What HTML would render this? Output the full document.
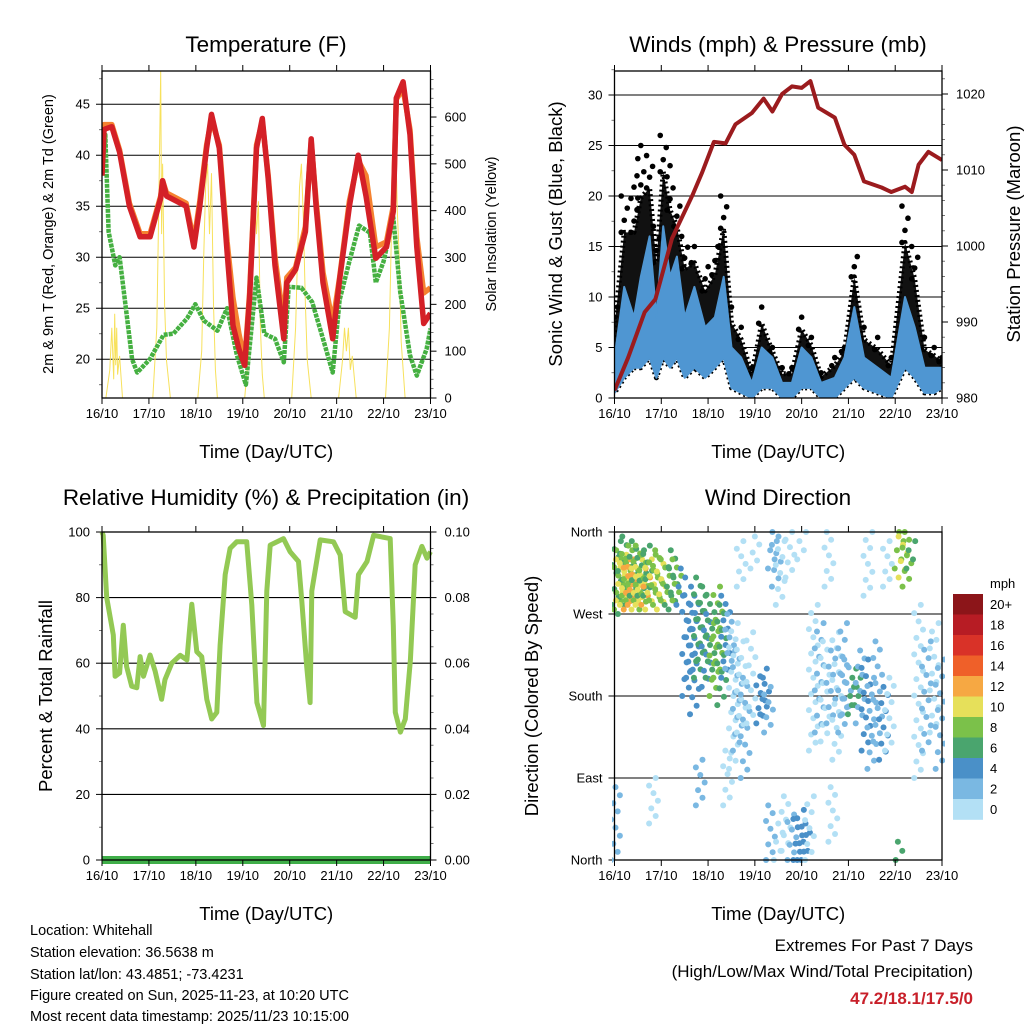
<!DOCTYPE html>
<html><head><meta charset="utf-8"><title>Whitehall station summary</title>
<style>
body{margin:0;background:#fff;}
svg{display:block;font-family:"Liberation Sans",Arial,sans-serif;}
</style></head>
<body>
<svg id="chart" width="1024" height="1024" viewBox="0 0 1024 1024" xmlns="http://www.w3.org/2000/svg">
<rect x="0" y="0" width="1024" height="1024" fill="#fff"/>
<g id="layer"></g>
<g font-size="14.5" fill="#000">
<text x="30" y="935">Location: Whitehall</text>
<text x="30" y="957">Station elevation: 36.5638 m</text>
<text x="30" y="979">Station lat/lon: 43.4851; -73.4231</text>
<text x="30" y="1000">Figure created on Sun, 2025-11-23, at 10:20 UTC</text>
<text x="30" y="1021">Most recent data timestamp: 2025/11/23 10:15:00</text>
</g>
<g text-anchor="end">
<text x="973" y="951" font-size="17">Extremes For Past 7 Days</text>
<text x="973" y="977" font-size="17">(High/Low/Max Wind/Total Precipitation)</text>
<text x="973" y="1004" font-size="17" font-weight="bold" fill="#c8202a">47.2/18.1/17.5/0</text>
</g>
</svg>
<script>
// ---------- data ----------
const dayLabels = ["16/10","17/10","18/10","19/10","20/10","21/10","22/10","23/10"];
// Temperature (hours since 16/10 00UTC)
const tempHours = [0,1,2,5,9,14,19.5,24.6,30,31,33,38,43,47,50,53.5,56,60,64,67,70,73,75.5,79,82,85,88.5,93,94.5,99,104,107,109.5,113,118,121.5,126.5,131,135,140,145.5,149,150.5,154,157.5,161,164.5,168];
const tempRed   = [38,42.5,42.6,42.8,40.3,35,32,32,35.8,37.5,36,35.5,35,31,35,40.7,44,40.7,30.5,23.3,21,19.4,26,40.7,43.6,37.7,29.2,22,27.5,28.8,32.5,41.6,35,27.5,22,27.8,35,40,36,29.9,31,34.5,45.6,47.2,42,31,23.5,24.5];
const tempOrange= [38.5,43,43,43,40.5,35.3,32.3,32.3,36,37.5,36.3,35.8,35.3,31.5,35.5,41,43.5,41,31.5,26,22.5,19.8,26.5,41,43.3,38,30,23.5,28,29,33,41.3,35.5,28.5,23.5,28,35.5,39.5,38,31,31.5,35,45.5,46.5,42.5,32,26.5,27];
const dewHours = [0,1.7,3.4,6.8,9,12,15.4,18,24.5,31.5,36.5,43.5,47.7,52,59,64,69,73.6,79,83,88.5,93,95.5,102,107.5,113,118,121.5,126.5,131.5,137,140,144,149,152.5,157.5,161,166,168];
const dewGreen = [38,42,32.5,29.2,30,25.3,20,18.7,20,22.4,22.5,24,25.4,23.8,22.8,25,20.4,17.5,28,22.5,22,19.7,27.1,27,25.6,22,18.7,25.8,29.6,33.1,32.4,27.5,29.6,33.9,26.6,20.4,18.4,21,23];
const solarHours = [0,2,4,5,6,6.5,7,7.5,8,9,10.5,26,28,29,30,30.5,31,32,33,35,49,51,52,53,54,55,56,57,58,59,73,75,76,77,78,79,80,81,82,83,97,99,100,101,102,103,104,105,107,121,123,124,125,126,127,128,130,145,147,148,149,150,151,152,153,155,168];
const solarVals  = [0,0,60,150,40,180,70,150,50,90,0,0,150,400,700,350,500,200,80,0,0,100,300,450,500,350,480,200,60,0,0,100,300,450,480,350,420,150,50,0,0,150,300,450,500,380,200,80,0,0,80,150,100,150,60,90,0,0,150,350,500,590,400,300,120,0,0];
// Winds
const windHours = [0,5,10,13.5,18,21.5,25,28.5,32,36,41,46.5,51.5,56,60,65,70.5,75.5,81,86,91,96,101,106,113,118,123,128,135,142,149,154,159,164,168];
const windLo    = [0.5,2,3,3,4,2,4,3,4,2,3,2,3,4,1,0.5,0,1,1,0,0,1,1,0,0,1,2,1,0.5,0,3,2,0.5,0.5,1];
const windHi    = [4,11,8,12,16,8,17,12,14,8,11,7,8,12,5,4,1.5,5,4,1.5,1.5,5,4,1.5,2,4,9,4,3,2,10,7,3,3,3];
const windGust  = [9,20,22,25,24,17,26,23,19,16,15,13,15,20,9,7,3,9,5,3,3,8,6,2.5,4,5,14,7,6,4,19,15,6,5,4];
const presHours = [0,7,15.5,21,29.5,40,45,51,57,62,70.5,76.5,81,86,91,96,100.5,104.5,113,118,123,128,137,142,149,152.5,156,161,168];
const presVals  = [981,985.3,991.3,993,1001,1006.7,1009.7,1013.7,1013.5,1016,1017.5,1019.4,1017.7,1020,1021,1020.8,1021.7,1018.2,1016.9,1013.3,1012,1008.5,1007.7,1007.1,1007.8,1007.1,1010.7,1012.4,1011.3];
// Relative humidity
const rhHours = [0,0.6,2.4,5.8,6.7,9,10.9,12.6,15.2,17.8,19.5,21.2,24.6,27.2,30.5,32.2,35.7,40,43.4,45.9,48.5,51,53.6,56.1,58.7,60.4,63,65.5,68.9,74,76.6,79.2,82.6,84.3,86,92.8,96.2,100.5,102.2,104.7,106.4,107.3,111.6,118.4,121.8,124.4,129.5,131.2,135.5,138.9,147.4,149,150,152.6,155.1,157.7,160.2,163.6,166.2,168];
const rhVals  = [100,99,80,68.6,56,57,71.6,59,53,52.5,62,56,62.5,57.5,49,55,60,62.4,61,78,63.5,62,49,43,45,65.5,87,95,97,97,77.8,48,41,82,96,98,94,91,79,59,48,82,97.6,97,93,75.7,74,87,91,99,98,71.6,45,39,43,61,90,95.6,92,94];
const precipHours = [0,168];
const precipVals  = [0,0];
// Wind direction columns: hour, dirLo, dirHi, speed(mph)
const dirHour = [0.5,1,2,3,4,5,6,7,8,9,10,11,12,13,14,15,16,17,18,20,22,24,26,28,30,32,34,37,39,41,43,45,47,49,51,53,55,57,59,61,63,65,67,70,75,77,79,81,83,85,80,84,88,91,94,96,98,100,90,96,102,105,108,111,114,117,119,122,124,126,129,132,135,138,141,146,148,150,152,146.5,156,160,164,167,110,130,140,65,72,20,44,112,58];
const dirLo   = [0,280,275,285,270,280,290,275,285,280,290,275,285,280,290,275,280,290,275,285,280,275,285,280,275,285,280,180,200,160,200,220,190,200,180,200,170,200,210,100,120,140,90,150,150,160,140,320,300,280,0,0,10,0,0,0,0,0,310,330,120,140,130,150,110,140,160,160,170,150,120,100,130,110,120,320,310,300,320,0,90,120,140,100,300,290,300,300,320,40,60,20,60];
const dirHi   = [80,350,340,330,355,335,345,330,340,330,350,320,345,330,340,335,320,345,330,335,340,325,330,320,340,330,320,300,280,290,310,300,270,290,260,300,280,290,270,260,230,240,200,250,200,210,190,360,355,350,60,40,70,50,45,55,40,70,360,360,280,260,240,230,250,260,220,200,210,230,220,200,240,190,200,360,355,360,350,20,280,240,260,220,360,360,350,350,355,90,110,80,120];
const dirSpeed= [3,6,9,11,7,10,8,12,9,13,7,10,8,11,6,9,12,7,10,9,8,11,9,7,6,8,5,4,5,4,6,7,5,6,8,9,7,4,3,1,2,1,2,0,4,4,3,3,2,1,2,1,0,2,4,4,4,1,0,0,1,2,1,2,0,3,2,6,6,3,4,3,2,4,1,8,10,9,7,6,1,2,1,2,0,1,0,0,0,1,2,0,1];
const cbarLabels = ["20+","18","16","14","12","10","8","6","4","2","0"];
const cbarColors = ["#8c1519","#b71c24","#d93228","#ef6029","#f6a843","#e6e05a","#7bc14a","#4aa56e","#4a90c8","#7ab8e2","#b3e0f5"];

// ---------- helpers ----------
const NS = "http://www.w3.org/2000/svg";
const root = document.getElementById("layer");
function mk(tag, attrs, parent) {
  const el = document.createElementNS(NS, tag);
  for (const k in attrs) el.setAttribute(k, attrs[k]);
  (parent || root).appendChild(el);
  return el;
}
function txt(s, attrs, parent) { const t = mk("text", attrs, parent); t.textContent = s; return t; }

const x1 = h => 102 + h * 328.5 / 168;
const x2 = h => 614.5 + h * 327.5 / 168;
const yT = v => 398 - (v - 16.2) * 10.2;
const ySol = v => 398 - v * 0.4683;
const yW = v => 398 - v * 10.1;
const yP = p => 398 - (p - 980) * 7.6;
const yRH = v => 860 - v * 3.28;
const yPr = v => 860 - v * 3280;
const yD = d => 860 - d * 328 / 360;
function spdColor(s) { const i = Math.min(10, Math.floor(s / 2)); return cbarColors[10 - i]; }
function pts(hs, vs, fx, fy) { return hs.map((h, i) => fx(h).toFixed(1) + "," + fy(vs[i]).toFixed(1)).join(" "); }

function panelFrame(g, L, T, R, B, name) {
  const f = mk("rect", {x: L, y: T, width: R - L, height: B - T, fill: "none", stroke: "#000", "stroke-width": 1.3}, g);
  
  
}
function xAxis(g, fx, B, T, name) {
  for (let d = 0; d < dayLabels.length; d++) {
    const x = fx(d * 24);
    const tk = mk("path", {d: `M${x},${B}v6M${x},${T}v-6`, stroke: "#000", "stroke-width": 1}, g);
    
    
    const lb = txt(dayLabels[d], {x: x, y: B + 20, "font-size": 13, "text-anchor": "middle"}, g);
    
    
  }
  const t = txt("Time (Day/UTC)", {x: (fx(0) + fx(168)) / 2, y: B + 60, "font-size": 18.5, "text-anchor": "middle"}, g);
  
  
}
function yTicks(g, vals, labels, fy, xEdge, side, grid, L, R, name) {
  vals.forEach((v, i) => {
    const y = fy(v);
    if (grid) {
      const gl = mk("line", {x1: L, x2: R, y1: y, y2: y, stroke: "#000", "stroke-width": 1.1}, g);
      
      
    }
    const dx = side === "left" ? -6 : 6;
    const tk = mk("line", {x1: xEdge, x2: xEdge + dx, y1: y, y2: y, stroke: "#000", "stroke-width": 1}, g);
    
    
    const lb = txt(labels[i], {x: side === "left" ? xEdge - 12 : xEdge + 14, y: y + 4.5, "font-size": 13, "text-anchor": side === "left" ? "end" : "start"}, g);
    
    
  });
}
function minorTicks(g, vals, fy, xEdge, side) {
  vals.forEach(v => {
    const y = fy(v);
    const m = mk("line", {x1: xEdge, x2: xEdge + (side === "left" ? -3 : 3), y1: y, y2: y, stroke: "#555", "stroke-width": 0.8}, g);
    
    
  });
}
function title(g, s, cx, name) {
  const t = txt(s, {x: cx, y: 52, "font-size": 22.5, "text-anchor": "middle"}, g);
  
  
  return t;
}
function vtitle(g, s, x, y, size, name) {
  const t = txt(s, {x: 0, y: 0, "font-size": size, "text-anchor": "middle", transform: `translate(${x},${y}) rotate(-90)`}, g);
  
  
}

// ---------- Panel 1: Temperature ----------
{
  const g = mk("g", {});
  
  
  title(g, "Temperature (F)", 266, 'temperature-title');
  yTicks(g, [20,25,30,35,40,45], ["20","25","30","35","40","45"], yT, 102, "left", true, 102, 430.5, 'temp');
  minorTicks(g, [17.5,22.5,27.5,32.5,37.5,42.5,47.5], yT, 102, "left");
  yTicks(g, [0,100,200,300,400,500,600], ["0","100","200","300","400","500","600"], ySol, 430.5, "right", false, 0, 0, 'solar');
  minorTicks(g, [20,40,60,80,120,140,160,180,220,240,260,280,320,340,360,380,420,440,460,480,520,540,560,580,620,640,660,680], ySol, 430.5, "right");
  const cp = mk("clipPath", {id: "c1"}, g);
  mk("rect", {x: 102, y: 71, width: 328.5, height: 327}, cp);
  const sol = mk("polyline", {points: pts(solarHours, solarVals, x1, ySol), fill: "none", stroke: "#f7e15c", "stroke-width": 1, "clip-path": "url(#c1)"}, g);
  
  
  const dew = mk("polyline", {points: pts(dewHours, dewGreen, x1, yT), fill: "none", stroke: "#45b041", "stroke-width": 4.5, "stroke-dasharray": "4 1", "stroke-linejoin": "round", "clip-path": "url(#c1)"}, g);
  
  
  const org = mk("polyline", {points: pts(tempHours, tempOrange, x1, yT), fill: "none", stroke: "#f58230", "stroke-width": 5.5, "stroke-linejoin": "round", "clip-path": "url(#c1)"}, g);
  
  
  const red = mk("polyline", {points: pts(tempHours, tempRed, x1, yT), fill: "none", stroke: "#d42027", "stroke-width": 5.5, "stroke-linejoin": "round", "clip-path": "url(#c1)"}, g);
  
  
  panelFrame(g, 102, 71, 430.5, 398, 'temperature');
  xAxis(g, x1, 398, 71, 'temperature');
  vtitle(g, "2m & 9m T (Red, Orange) & 2m Td (Green)", 53, 234, 14.5, 'temperature-y-axis-title');
  vtitle(g, "Solar Insolation (Yellow)", 496, 234, 14.5, 'solar-y-axis-title');
}

// ---------- Panel 2: Winds ----------
{
  const g = mk("g", {});
  
  
  title(g, "Winds (mph) & Pressure (mb)", 778, 'winds-title');
  yTicks(g, [0,5,10,15,20,25,30], ["0","5","10","15","20","25","30"], yW, 614.5, "left", true, 614.5, 942, 'wind');
  minorTicks(g, [2.5,7.5,12.5,17.5,22.5,27.5,32.5], yW, 614.5, "left");
  yTicks(g, [980,990,1000,1010,1020], ["980","990","1000","1010","1020"], yP, 942, "right", false, 0, 0, 'pressure');
  minorTicks(g, [982,984,986,988,992,994,996,998,1002,1004,1006,1008,1012,1014,1016,1018,1022], yP, 942, "right");
  const cp = mk("clipPath", {id: "c2"}, g);
  mk("rect", {x: 614.5, y: 71, width: 327.5, height: 327}, cp);
  const gp = windHours.map((h, i) => x2(h).toFixed(1) + "," + yW(windHi[i] + 0.6 * (windGust[i] - windHi[i])).toFixed(1)).join(" ");
  const lp = windHours.slice().reverse().map((h, j) => { const i = windHours.length - 1 - j; return x2(h).toFixed(1) + "," + yW(windLo[i]).toFixed(1); }).join(" ");
  const gust = mk("polygon", {points: gp + " " + lp, fill: "#111", stroke: "#000", "stroke-width": 5, "stroke-dasharray": "2 3", "stroke-linejoin": "round", "clip-path": "url(#c2)"}, g);
  
  
  windHours.forEach((h, i) => {
    const top = windHi[i] + 0.6 * (windGust[i] - windHi[i]);
    const n = Math.max(1, Math.round((windGust[i] - top) / 1.2));
    for (let k = 0; k <= n; k++) {
      const d = mk("circle", {cx: x2(h) + ((k % 3) - 1) * 3, cy: yW(top + (windGust[i] - top) * k / n), r: 2.8, fill: "#000", "clip-path": "url(#c2)"}, g);
      
      
    }
  });
  const hp = windHours.map((h, i) => x2(h).toFixed(1) + "," + yW(windHi[i]).toFixed(1)).join(" ");
  const band = mk("polygon", {points: hp + " " + lp, fill: "#4f96d2", stroke: "#4f96d2", "stroke-width": 2, "stroke-linejoin": "round", "clip-path": "url(#c2)"}, g);
  
  
  const pr = mk("polyline", {points: pts(presHours, presVals, x2, yP), fill: "none", stroke: "#9b1b1e", "stroke-width": 4, "stroke-linejoin": "round", "clip-path": "url(#c2)"}, g);
  
  
  panelFrame(g, 614.5, 71, 942, 398, 'winds');
  xAxis(g, x2, 398, 71, 'winds');
  vtitle(g, "Sonic Wind & Gust (Blue, Black)", 562, 234, 18.5, 'wind-y-axis-title');
  vtitle(g, "Station Pressure (Maroon)", 1020, 234, 18.5, 'pressure-y-axis-title');
}

// ---------- Panel 3: RH ----------
{
  const g = mk("g", {});
  
  
  title(g, "Relative Humidity (%) & Precipitation (in)", 266, 'humidity-title').setAttribute('y', 505);
  yTicks(g, [0,20,40,60,80,100], ["0","20","40","60","80","100"], yRH, 102, "left", true, 102, 430.5, 'rh');
  minorTicks(g, [10,30,50,70,90], yRH, 102, "left");
  yTicks(g, [0,0.02,0.04,0.06,0.08,0.10], ["0.00","0.02","0.04","0.06","0.08","0.10"], yPr, 430.5, "right", false, 0, 0, 'precip');
  minorTicks(g, [0.005,0.01,0.015,0.025,0.03,0.035,0.045,0.05,0.055,0.065,0.07,0.075,0.085,0.09,0.095], yPr, 430.5, "right");
  const cp = mk("clipPath", {id: "c3"}, g);
  mk("rect", {x: 96, y: 528, width: 340, height: 340}, cp);
  const pl = mk("polyline", {points: pts(precipHours, precipVals, x1, yPr), fill: "none", stroke: "#3fae49", "stroke-width": 8, "clip-path": "url(#c3)"}, g);
  
  
  const rh = mk("polyline", {points: pts(rhHours, rhVals, x1, yRH), fill: "none", stroke: "#93c954", "stroke-width": 5, "stroke-linejoin": "round", "clip-path": "url(#c3)"}, g);
  
  
  panelFrame(g, 102, 532, 430.5, 860, 'humidity');
  xAxis(g, x1, 860, 532, 'humidity');
  vtitle(g, "Percent & Total Rainfall", 52, 696, 18.5, 'humidity-y-axis-title');
}

// ---------- Panel 4: Wind direction ----------
{
  const g = mk("g", {});
  
  
  title(g, "Wind Direction", 778, 'wind-direction-title').setAttribute('y', 505);
  yTicks(g, [0,90,180,270,360], ["North","East","South","West","North"], yD, 614.5, "left", true, 614.5, 942, 'direction');
  const cp = mk("clipPath", {id: "c4"}, g);
  mk("rect", {x: 612, y: 529, width: 333, height: 334}, cp);
  dirHour.forEach((h, i) => {
    const n = Math.max(1, Math.round((dirHi[i] - dirLo[i]) / 9));
    for (let k = 0; k <= n; k++) {
      const d = dirLo[i] + (dirHi[i] - dirLo[i]) * k / n;
      const c = mk("circle", {cx: x2(h) + ((k * 3) % 5 - 2) * 2.2, cy: yD(d), r: 3, fill: spdColor(dirSpeed[i]), "clip-path": "url(#c4)"}, g);
      
      
    }
  });
  panelFrame(g, 614.5, 532, 942, 860, 'wind-direction');
  xAxis(g, x2, 860, 532, 'wind-direction');
  vtitle(g, "Direction (Colored By Speed)", 538, 696, 18.5, 'direction-y-axis-title');
  const cb = mk("g", {}, g);
  
  
  const u = txt("mph", {x: 990, y: 588, "font-size": 13}, cb);
  
  
  cbarColors.forEach((c, i) => {
    const r = mk("rect", {x: 953, y: 594 + i * 20.5, width: 30, height: 20.8, fill: c}, cb);
    
    
    const l = txt(cbarLabels[i], {x: 990, y: 609 + i * 20.5, "font-size": 13}, cb);
    
    
  });
}
</script>
</body></html>
